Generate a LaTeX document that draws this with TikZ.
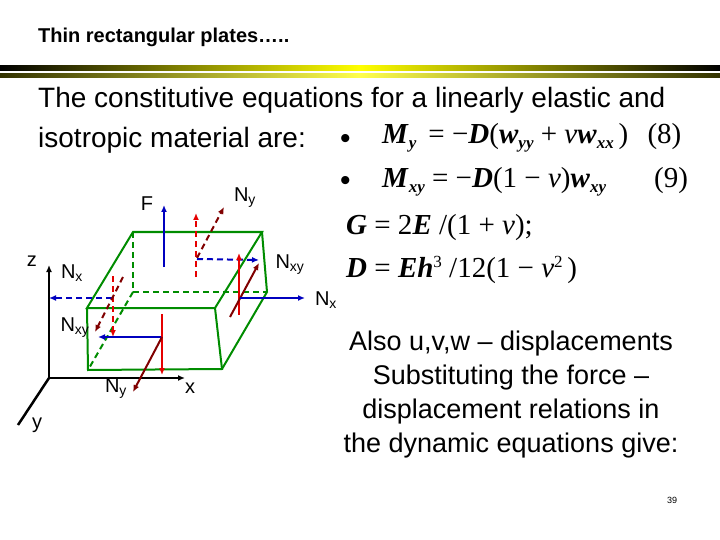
\documentclass[tikz,border=0pt]{standalone}
\usepackage{fontspec}
\setmainfont{Liberation Sans}
\newfontfamily\tms{Liberation Serif}
\usetikzlibrary{arrows.meta}
\tikzset{
 gr/.style={draw=green!55!black,line width=2pt},
 grd/.style={gr,dash pattern=on 6pt off 4pt},
 bl/.style={draw=blue!75!black,line width=2pt,-{Latex[length=7pt,width=6pt]}},
 rd/.style={draw=red!90!black,line width=2pt,-{Latex[length=7pt,width=6pt]}},
 dr/.style={draw=red!50!black,line width=2pt,-{Latex[length=7pt,width=6pt]}},
 ds/.style={dash pattern=on 6pt off 4pt},
 ax/.style={draw=black,line width=2.5pt},
 lab/.style={font=\fontsize{20}{20}\selectfont,inner sep=0pt},
 body/.style={font=\fontsize{28}{34}\selectfont,inner sep=0pt,anchor=west},
 eq/.style={font=\tms\fontsize{29}{29}\selectfont,inner sep=0pt,anchor=west},
}
\newcommand{\bi}[1]{\textbf{\textit{#1}}}
\newcommand{\sbi}[1]{\raisebox{-5pt}{\fontsize{17}{17}\selectfont\textbf{\textit{#1}}}}
\begin{document}
\begin{tikzpicture}[x=1pt,y=-1pt]
\useasboundingbox (0,0) rectangle (720,540);
% title
\node[anchor=west,inner sep=0pt,font=\bfseries\fontsize{20}{20}\selectfont] (title) at (38,37) {Thin rectangular plates…..};
\shade[left color=black,right color=yellow] (0,66) rectangle (360,71);
\shade[left color=yellow,right color=black] (360,66) rectangle (720,71);
\shade[left color=black!80!yellow,right color=yellow!70] (0,74) rectangle (360,78);
\shade[left color=yellow!70,right color=black!80!yellow] (360,74) rectangle (720,78);
% body
\node[body] (t1) at (38,100) {The constitutive equations for a linearly elastic and};
\node[body] (t2) at (38,140) {isotropic material are:};
% equations
\node[eq,font=\fontsize{30}{30}\selectfont] (b1) at (340,141) {•};
\node[eq] (e1) at (382,138) {\bi{M}\sbi{y} \,= −\bi{D}(\bi{w}\sbi{yy} + \textit{ν}\bi{w}\sbi{xx}\,)\enspace\,(8)};
\node[eq,font=\fontsize{30}{30}\selectfont] (b2) at (340,183) {•};
\node[eq] (e2) at (382,182) {\bi{M}\sbi{xy} = −\bi{D}(1 − \textit{ν})\bi{w}\sbi{xy}\hspace{48pt}(9)};
\node[eq] (e3) at (346,228) {\bi{G} = 2\bi{E} /(1 + \textit{ν});};
\node[eq] (e4) at (346,270) {\bi{D} = \bi{E}\bi{h}\raisebox{10pt}{\fontsize{17}{17}\selectfont 3} /12(1 − \textit{ν}\raisebox{10pt}{\fontsize{17}{17}\selectfont 2}\,)};
% right text
\node[font=\fontsize{27}{34}\selectfont,inner sep=0pt,align=center] (t3) at (511,395) {Also u,v,w – displacements\\Substituting the force –\\displacement relations in\\the dynamic equations give:};
\node[font=\fontsize{9}{9}\selectfont,inner sep=0pt] (pg) at (672,500) {39};
% axes
\coordinate (O) at (49,378);
\coordinate (Z) at (49,265);
\coordinate (X) at (185,378);
\coordinate (Y) at (18,425);
\draw[ax,-{Latex[length=7pt,width=6pt]}] (O) -- (Z);
\draw[ax,-{Latex[length=7pt,width=6pt]}] (O) -- (X);
\draw[ax] (O) -- (Y);
\node[lab] (lz) at (32,261) {z};
\node[lab] (lx) at (190,388) {x};
\node[lab] (ly) at (37,425) {y};
% box
\coordinate (A) at (133,232); \coordinate (B) at (262,232);
\coordinate (C) at (215,308); \coordinate (D) at (87,308);
\coordinate (E) at (88,370); \coordinate (F) at (222,369);
\coordinate (G) at (267,292); \coordinate (H) at (133,292);
\draw[gr] (A) -- (B) -- (C) -- (D) -- cycle;
\draw[gr] (D) -- (E) -- (F) -- (C);
\draw[gr] (B) -- (G) -- (F);
\draw[grd] (A) -- (H) -- (G);
\draw[grd] (H) -- (E);
% forces top/back
\draw[bl] (164,267) -- (164,205);
\node[lab] (lF) at (147,204) {F};
\draw[rd,ds] (196,277) -- (196,213);
\draw[dr,ds] (197,258) -- (224,207);
\node[lab] (lNy1) at (245,198) {N\textsubscript{y}};
\draw[bl,ds] (197,259) -- (259,260);
\node[lab] (lNxy1) at (290,265) {N\textsubscript{xy}};
% right face
\draw[rd] (239,315) -- (239,253);
\draw[dr] (230,317) -- (259,263);
\draw[bl] (240,298) -- (305,298);
\node[lab] (lNx1) at (326,300) {N\textsubscript{x}};
% left face
\draw[bl,ds] (112,298) -- (49,298);
\node[lab] (lNx2) at (72,273) {N\textsubscript{x}};
\draw[rd,ds] (113,276) -- (113,337);
\draw[dr,ds] (123,277) -- (95,332);
\node[lab] (lNxy2) at (75,328) {N\textsubscript{xy}};
% front face
\draw[bl] (162,337) -- (98,337);
\draw[rd] (162,314) -- (162,375);
\draw[dr] (162,337) -- (133,392);
\node[lab] (lNy2) at (116,389) {N\textsubscript{y}};
\end{tikzpicture}
\end{document}
